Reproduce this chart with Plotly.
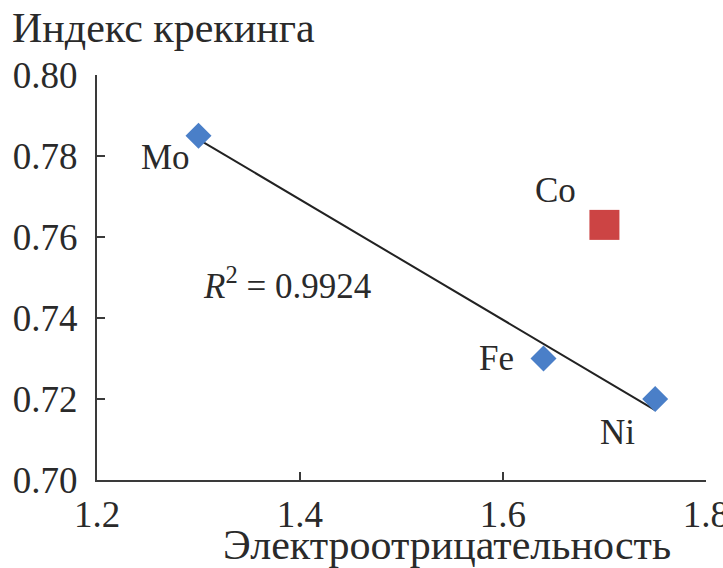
import numpy as np
import plotly.graph_objects as go

# Data
metals = ["Mo", "Fe", "Ni"]
electroneg = [1.30, 1.64, 1.75]
crack_index = [0.785, 0.730, 0.720]

outlier_metal = ["Co"]
outlier_x = [1.70]
outlier_y = [0.763]

x_ticks = [1.2, 1.4, 1.6, 1.8]
x_ticklabels = ["1.2", "1.4", "1.6", "1.8"]
y_ticks = [0.70, 0.72, 0.74, 0.76, 0.78, 0.80]
y_ticklabels = ["0.70", "0.72", "0.74", "0.76", "0.78", "0.80"]

r2_label = "R² = 0.9924"
x_title = "Электроотрицательность"
y_title = "Индекс крекинга"

FONT = "Liberation Serif, DejaVu Serif, serif"
TXT = "#2a2a2a"
AX = "#3a3a3a"
FS = 37

# Linear fit through the blue points
k, b = np.polyfit(electroneg, crack_index, 1)
fit_x = [min(electroneg), max(electroneg)]
fit_y = [k * v + b for v in fit_x]

fig = go.Figure()
fig.add_trace(go.Scatter(x=fit_x, y=fit_y, mode="lines",
                         line=dict(color="#222222", width=2), showlegend=False))
fig.add_trace(go.Scatter(x=electroneg, y=crack_index, mode="markers",
                         marker=dict(symbol="diamond", size=20, color="#4a7fc8"),
                         showlegend=False))
fig.add_trace(go.Scatter(x=outlier_x, y=outlier_y, mode="markers",
                         marker=dict(symbol="square", size=30, color="#cc4444"),
                         showlegend=False))

# point labels: (xshift, yshift, xanchor)
offsets = {"Mo": (-6, -22, "right"), "Fe": (-28, 0, "right"),
           "Ni": (-38, -33, "center"), "Co": (-49, 34, "center")}
for name, xv, yv in list(zip(metals, electroneg, crack_index)) + list(zip(outlier_metal, outlier_x, outlier_y)):
    dx, dy, anc = offsets[name]
    fig.add_annotation(x=xv, y=yv, text=name, showarrow=False, xanchor=anc,
                       yanchor="middle", xshift=dx, yshift=dy,
                       font=dict(family=FONT, size=FS - 2, color=TXT))

fig.add_annotation(x=1.387, y=0.7485, text="<i>R</i><sup>2</sup> = 0.9924", showarrow=False,
                   xanchor="center", yanchor="middle",
                   font=dict(family=FONT, size=FS - 2, color=TXT))

fig.add_annotation(x=-0.143, y=1.116, xref="paper", yref="paper", text=y_title,
                   showarrow=False, xanchor="left", yanchor="middle",
                   font=dict(family=FONT, size=42, color=TXT))
fig.add_annotation(x=0.575, y=-0.16, xref="paper", yref="paper", text=x_title,
                   showarrow=False, xanchor="center", yanchor="middle",
                   font=dict(family=FONT, size=42, color=TXT))

fig.update_xaxes(range=[1.2, 1.8001], tickvals=x_ticks, ticktext=x_ticklabels,
                 showgrid=False, zeroline=False, showline=True, linecolor=AX, linewidth=2,
                 ticks="inside", ticklen=8, tickwidth=2, tickcolor=AX,
                 ticklabelstandoff=1, automargin=False, ticklabeloverflow="allow",
                 tickfont=dict(family=FONT, size=FS, color=TXT))
fig.update_yaxes(range=[0.70, 0.80001], tickvals=y_ticks, ticktext=y_ticklabels,
                 showgrid=False, zeroline=False, showline=True, linecolor=AX, linewidth=2,
                 ticks="inside", ticklen=8, tickwidth=2, tickcolor=AX,
                 ticklabelstandoff=10, automargin=False, ticklabeloverflow="allow",
                 tickfont=dict(family=FONT, size=FS, color=TXT))

fig.update_layout(width=723, height=568, plot_bgcolor="white", paper_bgcolor="white",
                  margin=dict(l=97, r=17, t=75, b=88), showlegend=False)

fig.write_html("out.html", config={"displayModeBar": False},
               post_script="document.body.style.margin='0';document.body.style.overflow='hidden';")
